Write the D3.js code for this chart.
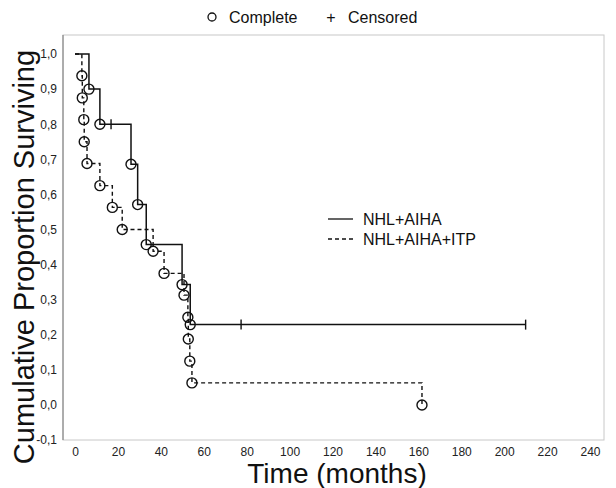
<!DOCTYPE html>
<html>
<head>
<meta charset="utf-8">
<script src="https://cdn.jsdelivr.net/npm/d3@7"></script>
<style>
  body { margin: 0; background: #fff; }
  svg { font-family: "Liberation Sans", Arial, sans-serif; }
</style>
</head>
<body>
<div id="plot"></div>
<script>
// NHL+AIHA (solid) - step times (months) and survival
var aihaTime = [0, 6.5, 11.6, 26.1, 29.2, 33.2, 49.9, 53.7];
var aihaSurv = [1.0, 0.9, 0.8, 0.686, 0.571, 0.457, 0.343, 0.229];
var aihaCensorTime = [16.8, 77.4, 210];
var aihaCensorSurv = [0.8, 0.229, 0.229];

// NHL+AIHA+ITP (dashed)
var itpTime = [0, 3.2, 3.4, 4.1, 4.3, 5.6, 11.6, 17.4, 22.0, 36.4, 41.5, 50.8, 52.6, 52.8, 53.5, 54.5, 161.7];
var itpSurv = [1.0, 0.938, 0.875, 0.813, 0.75, 0.688, 0.625, 0.563, 0.5, 0.438, 0.375, 0.313, 0.25, 0.188, 0.125, 0.063, 0.0];

var xTicks = [0, 20, 40, 60, 80, 100, 120, 140, 160, 180, 200, 220, 240];
var yTicks = [-0.1, 0, 0.1, 0.2, 0.3, 0.4, 0.5, 0.6, 0.7, 0.8, 0.9, 1.0];

var width = 616, height = 488;
var frame = { left: 63, top: 35, right: 604, bottom: 440 };

var svg = d3.select("#plot").append("svg")
    .attr("width", width)
    .attr("height", height);

var xScale = d3.scaleLinear().domain([0, 240]).range([75, 590]),
    yScale = d3.scaleLinear().domain([0, 1]).range([405, 54]);

// plot frame
svg.append("rect")
    .attr("x", frame.left).attr("y", frame.top)
    .attr("width", frame.right - frame.left)
    .attr("height", frame.bottom - frame.top)
    .attr("fill", "none")
    .attr("stroke", "#c8c8c8")
    .attr("stroke-width", 1);

// axes
var yAxis = d3.axisLeft(yScale)
    .tickValues(yTicks)
    .tickSize(0)
    .tickPadding(6)
    .tickFormat(function(d) { return d3.format(".1f")(d).replace(".", ",").replace("−", "-"); });

var gy = svg.append("g")
    .attr("transform", "translate(" + frame.left + ",0)")
    .call(yAxis);
gy.select(".domain").attr("d", "M0," + frame.top + "V" + frame.bottom).attr("stroke", "#777");

var xAxis = d3.axisBottom(xScale)
    .tickValues(xTicks)
    .tickSize(0)
    .tickPadding(7);

var gx = svg.append("g")
    .attr("transform", "translate(0," + frame.bottom + ")")
    .call(xAxis);
gx.select(".domain").remove();

svg.selectAll(".tick text")
    .attr("font-family", "Liberation Sans, Arial, sans-serif")
    .attr("font-size", 12)
    .attr("fill", "#222");

// step curves
var line = d3.line()
    .x(function(d) { return xScale(d[0]); })
    .y(function(d) { return yScale(d[1]); })
    .curve(d3.curveStepAfter);

var aihaPts = aihaTime.map(function(t, i) { return [t, aihaSurv[i]]; });
aihaPts.push([aihaCensorTime[aihaCensorTime.length - 1], aihaSurv[aihaSurv.length - 1]]);

var itpPts = itpTime.map(function(t, i) { return [t, itpSurv[i]]; });

svg.append("path")
    .attr("d", line(itpPts))
    .attr("fill", "none")
    .attr("stroke", "#111")
    .attr("stroke-width", 1.4)
    .attr("stroke-dasharray", "4,3");

svg.append("path")
    .attr("d", line(aihaPts))
    .attr("fill", "none")
    .attr("stroke", "#111")
    .attr("stroke-width", 1.5);

// complete (event) markers
var events = aihaPts.slice(1, aihaTime.length).concat(itpPts.slice(1));
svg.append("g").selectAll("circle")
    .data(events)
    .enter().append("circle")
    .attr("cx", function(d) { return xScale(d[0]); })
    .attr("cy", function(d) { return yScale(d[1]); })
    .attr("r", 5)
    .attr("fill", "none")
    .attr("stroke", "#111")
    .attr("stroke-width", 1.4);

// censored markers
svg.append("g").selectAll("line")
    .data(aihaCensorTime)
    .enter().append("line")
    .attr("x1", function(d) { return xScale(d); })
    .attr("x2", function(d) { return xScale(d); })
    .attr("y1", function(d, i) { return yScale(aihaCensorSurv[i]) - 5; })
    .attr("y2", function(d, i) { return yScale(aihaCensorSurv[i]) + 5; })
    .attr("stroke", "#111")
    .attr("stroke-width", 1.4);

// top legend
var keyTop = svg.append("g");
keyTop.append("circle").attr("cx", 212).attr("cy", 17).attr("r", 4)
    .attr("fill", "none").attr("stroke", "#111").attr("stroke-width", 1.3);
keyTop.append("text").attr("x", 229).attr("y", 23).attr("font-size", 16).attr("fill", "#111").text("Complete");
keyTop.append("text").attr("x", 331).attr("y", 23).attr("font-size", 16).attr("text-anchor", "middle").attr("fill", "#111").text("+");
keyTop.append("text").attr("x", 348).attr("y", 23).attr("font-size", 16).attr("fill", "#111").text("Censored");

// series legend
var leg = svg.append("g");
leg.append("line").attr("x1", 328).attr("x2", 353).attr("y1", 219).attr("y2", 219)
    .attr("stroke", "#111").attr("stroke-width", 1.3);
leg.append("line").attr("x1", 328).attr("x2", 353).attr("y1", 239).attr("y2", 239)
    .attr("stroke", "#111").attr("stroke-width", 1.3).attr("stroke-dasharray", "4,3");
leg.append("text").attr("x", 363).attr("y", 225).attr("font-size", 16).attr("fill", "#111").text("NHL+AIHA");
leg.append("text").attr("x", 363).attr("y", 245).attr("font-size", 16).attr("fill", "#111").text("NHL+AIHA+ITP");

// axis titles
svg.append("text")
    .attr("x", 337).attr("y", 483)
    .attr("text-anchor", "middle")
    .attr("font-size", 28)
    .attr("fill", "#111")
    .text("Time (months)");

svg.append("text")
    .attr("transform", "rotate(-90)")
    .attr("x", -257).attr("y", 34)
    .attr("text-anchor", "middle")
    .attr("font-size", 29)
    .attr("fill", "#111")
    .text("Cumulative Proportion Surviving");
</script>
</body>
</html>
